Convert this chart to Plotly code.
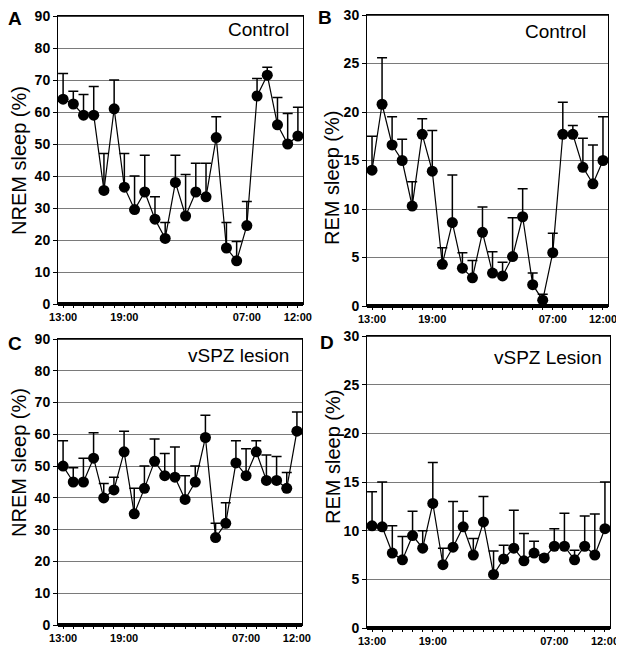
import plotly.graph_objects as go
from plotly.subplots import make_subplots

# ---- data (hourly, 13:00 -> 12:00) ----
hours = list(range(24))
tick_pos = [0, 6, 18, 23]
tick_text = ["13:00", "19:00", "07:00", "12:00"]

nrem_control = [64, 62.5, 59, 59, 35.5, 61, 36.5, 29.5, 35, 26.5, 20.5, 38,
                27.5, 35, 33.5, 52, 17.5, 13.5, 24.5, 65, 71.5, 56, 50, 52.5]
nrem_control_top = [72, 66.5, 65.5, 68, 47, 70, 47, 40, 46.5, 33.5, 25.5, 46.5,
                    40.5, 44, 44, 58.5, 25.5, 19.5, 32, 70.5, 74, 64.5, 59.5, 61.5]

rem_control = [14, 20.8, 16.6, 15, 10.3, 17.7, 13.9, 4.3, 8.6, 3.9, 2.9, 7.6,
               3.4, 3.1, 5.1, 9.2, 2.2, 0.6, 5.5, 17.7, 17.7, 14.3, 12.6, 15]
rem_control_top = [17.5, 25.6, 19.5, 17.2, 12.8, 19.3, 18.1, 6, 13.5, 5.5, 4.7, 10.2,
                   5.6, 4.5, 9.1, 12.1, 3.4, 1.2, 7.5, 21, 18.6, 17.3, 16.6, 19.5]

nrem_lesion = [50, 45, 45, 52.5, 40, 42.5, 54.5, 35, 43, 51.5, 47, 46.5,
               39.5, 45, 59, 27.5, 32, 51, 47, 54.5, 45.5, 45.5, 43, 61]
nrem_lesion_top = [58, 49.5, 52.5, 60.5, 44.5, 46.5, 61, 43, 50, 58.5, 54, 56,
                   47, 50, 66, 32, 38.5, 58, 55.5, 58, 53.5, 53, 48, 67]

rem_lesion = [10.5, 10.4, 7.7, 7, 9.5, 8.2, 12.8, 6.5, 8.3, 10.4, 7.5, 10.9,
              5.5, 7.1, 8.2, 6.9, 7.7, 7.2, 8.4, 8.4, 7.0, 8.4, 7.5, 10.2]
rem_lesion_top = [14, 15, 10.5, 9.4, 12, 10, 17, 8.2, 13, 12, 9.2, 13.5,
                  7.9, 8.5, 12.1, 9.7, 8.9, 7.5, 10.2, 11.8, 8, 11.5, 11.7, 15]

FONT = "Arial, Liberation Sans, sans-serif"
OFF = 8  # page body margin
W, H = 624 - OFF, 654 - OFF


def fx(px):
    return (px - OFF) / W


def fy(py):
    return 1 - (py - OFF) / H


panels = [
    # values, tops, row, col, ymax, dtick, label, letter, ytitle
    (nrem_control, nrem_control_top, 1, 1, 90, 10, "Control", "A", "NREM sleep (%)"),
    (rem_control, rem_control_top, 1, 2, 30, 5, "Control", "B", "REM sleep (%)"),
    (nrem_lesion, nrem_lesion_top, 2, 1, 90, 10, "vSPZ lesion", "C", "NREM sleep (%)"),
    (rem_lesion, rem_lesion_top, 2, 2, 30, 5, "vSPZ Lesion", "D", "REM sleep (%)"),
]

# plot areas in window pixels: left, right, top, bottom
boxes = [(58, 303, 16, 304), (367, 608, 15, 306), (58, 302, 339, 625), (367, 610, 336, 628)]
ytitle_pos = [(19, 161), (332, 178), (19, 463), (333, 457)]
letter_pos = [(15, 19), (325, 18), (15, 343), (327, 342)]
label_pos = [(291, 30), (588, 32), (291, 355), (604, 357)]

fig = make_subplots(rows=2, cols=2)

annotations = []
shapes = []
for i, (vals, tops, r, c, ymax, dt, label, letter, ytitle) in enumerate(panels):
    errs = [t - v for v, t in zip(vals, tops)]
    fig.add_trace(go.Scatter(
        x=hours, y=vals, mode="lines+markers",
        line=dict(color="black", width=1.2),
        marker=dict(color="black", size=11),
        error_y=dict(type="data", symmetric=False, array=errs,
                     arrayminus=[0] * len(vals), color="black",
                     thickness=1.5, width=5),
        showlegend=False,
    ), row=r, col=c)

    l, rt, t, b = boxes[i]
    n = "" if i == 0 else str(i + 1)
    fig.layout["xaxis" + n].update(
        domain=[fx(l), fx(rt)], range=[-0.5, 23.5],
        tickvals=tick_pos, ticktext=tick_text,
        ticks="outside", ticklen=3, tickcolor="black",
        minor=dict(dtick=1, tick0=0, ticks="outside", ticklen=3, tickcolor="black"),
        showgrid=False, zeroline=False, showline=True, mirror=True,
        linecolor="black", linewidth=1, automargin=False,
        tickfont=dict(family=FONT, size=11, color="black", weight="bold"),
    )
    fig.layout["yaxis" + n].update(
        domain=[fy(b), fy(t)], range=[0, ymax], dtick=dt,
        ticks="outside", ticklen=4, tickcolor="black",
        showgrid=True, gridcolor="#7a7a7a", gridwidth=1,
        zeroline=False, showline=True, mirror=True,
        linecolor="black", linewidth=1, automargin=False,
        ticklabeloverflow="allow",
        tickfont=dict(family=FONT, size=14, color="black", weight="bold"),
    )

    xr = "x" + n
    yr = "y" + n
    # thick baseline
    shapes.append(dict(type="line", xref=xr + " domain", yref=yr + " domain",
                       x0=0, x1=1, y0=0, y1=0, line=dict(color="black", width=4)))
    # heavier top border
    shapes.append(dict(type="line", xref=xr + " domain", yref=yr + " domain",
                       x0=0, x1=1, y0=1, y1=1, line=dict(color="black", width=1.5)))

    tx, ty = ytitle_pos[i]
    annotations.append(dict(x=fx(tx), y=fy(ty), xref="paper", yref="paper",
                            xanchor="center", yanchor="middle",
                            text=ytitle, textangle=-90, showarrow=False,
                            font=dict(family=FONT, size=20, color="black")))
    lx, ly = letter_pos[i]
    annotations.append(dict(x=fx(lx), y=fy(ly), xref="paper", yref="paper",
                            xanchor="center", yanchor="middle",
                            text="<b>" + letter + "</b>", showarrow=False,
                            font=dict(family=FONT, size=19, color="black")))
    px, py = label_pos[i]
    annotations.append(dict(x=fx(px), y=fy(py), xref="paper", yref="paper",
                            xanchor="right", yanchor="middle",
                            text=label, showarrow=False,
                            font=dict(family=FONT, size=19, color="black")))

fig.update_layout(
    width=W, height=H,
    margin=dict(l=0, r=0, t=0, b=0),
    template="none",
    paper_bgcolor="white", plot_bgcolor="white",
    annotations=annotations, shapes=shapes,
)

fig.write_html("out.html")
